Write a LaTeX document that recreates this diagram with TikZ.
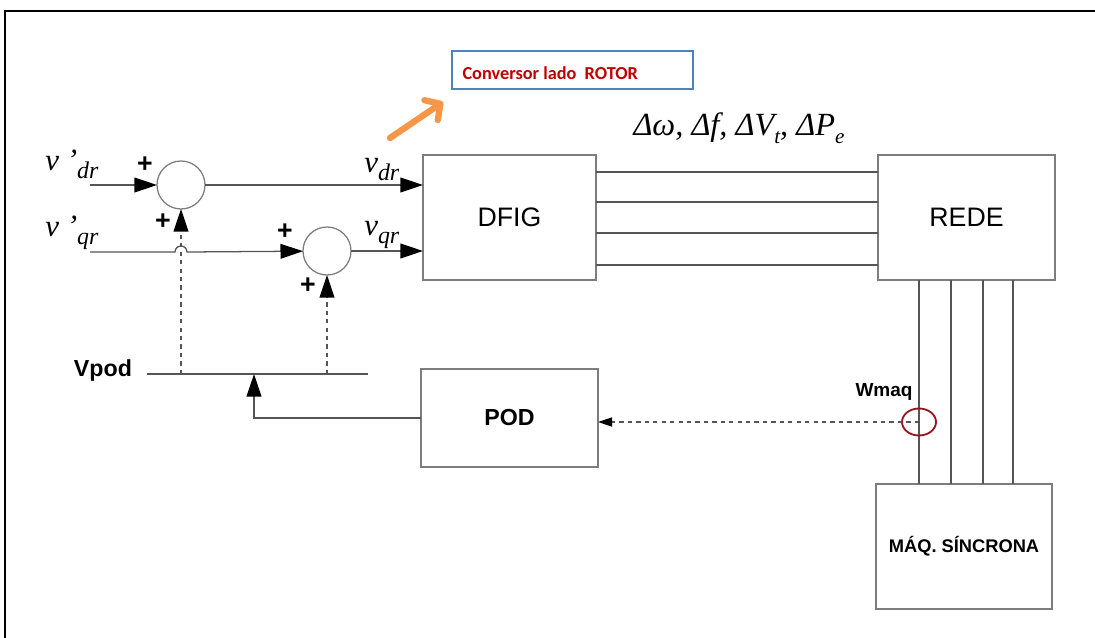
\documentclass[tikz,border=0pt]{standalone}
\usepackage{fontspec}
\setmainfont{Liberation Serif}
\setsansfont{Liberation Sans}
\newfontfamily\calibfont{Carlito}
\usepackage{xcolor}
\usetikzlibrary{arrows.meta,positioning,shapes.geometric}
\definecolor{boxgray}{RGB}{125,125,125}
\definecolor{wiregray}{RGB}{85,85,85}
\definecolor{convred}{RGB}{192,0,0}
\definecolor{convblue}{RGB}{79,129,189}
\definecolor{hintorange}{RGB}{247,150,70}
\definecolor{ringred}{RGB}{150,20,30}
\newcommand{\vsym}[2]{{\fontsize{22}{22}\selectfont\itshape #1\raisebox{-0.27em}{\fontsize{17}{17}\selectfont #2}}}

\begin{document}
\begin{tikzpicture}[
    x=0.025cm, y=-0.025cm,
    block/.style={rectangle, draw=boxgray, line width=1.2pt, outer sep=0pt, align=center,
                  font=\sffamily\fontsize{19}{19}\selectfont},
    sumnode/.style={circle, draw=boxgray, line width=0.9pt, minimum size=1.2cm, inner sep=0pt, outer sep=0pt},
    plus/.style={font=\sffamily\bfseries\fontsize{19}{19}\selectfont, inner sep=0pt},
    boldlbl/.style={font=\sffamily\bfseries\fontsize{16.5}{16.5}\selectfont, inner sep=0pt},
    wire/.style={draw=wiregray, line width=0.9pt},
    arr/.style={wire, -{Triangle[length=16pt, width=10.5pt, black]}},
    dasharr/.style={wire, dashed, -{Triangle[length=10pt, width=6.5pt, black]}},
]
\useasboundingbox (0,0) rectangle (1095,637);
% Frame
\draw[line width=1.5pt] (5,640) -- (5,11) -- (1100,11);

% Blocks
\node[block, minimum width=4.325cm, minimum height=3.125cm] (dfig) at (509.5,217.5) {DFIG};
\node[block, minimum width=4.425cm, minimum height=3.125cm] (rede) at (966.5,217.5) {REDE};
\node[block, minimum width=4.425cm, minimum height=2.45cm,
      font=\sffamily\bfseries\fontsize{16.5}{16.5}\selectfont] (pod) at (509.5,418) {POD};
\node[block, minimum width=4.4cm, minimum height=3.125cm,
      font=\sffamily\bfseries\fontsize{13}{13}\selectfont] (maq) at (964,546.5) {MÁQ. SÍNCRONA};

% Note box
\node[rectangle, draw=convblue, line width=1.1pt, minimum width=6.025cm, minimum height=0.95cm,
      outer sep=0pt] (conv) at (572.5,70) {};
\node[anchor=west, text=convred, font=\calibfont\bfseries\fontsize{13}{13}\selectfont]
      (convtxt) at ([xshift=0.14cm, yshift=-0.08cm]conv.west) {Conversor lado\ \ ROTOR};
\coordinate (otail) at (390,138);
\coordinate (ohead) at (443,102);
\draw[draw=hintorange, line width=4.5pt, line cap=round,
      -{Straight Barb[round, length=8pt, width=17pt]}] (otail) -- (ohead);

% Signals
\node[font=\itshape\fontsize{23}{23}\selectfont] (deltas) at (739,128)
      {Δω, Δf, ΔV\raisebox{-0.25em}{\fontsize{15}{15}\selectfont t}, ΔP\raisebox{-0.25em}{\fontsize{15}{15}\selectfont e}};

% Sums
\node[sumnode] (s1) at (181,185) {};
\node[sumnode] (s2) at (327,251) {};
\coordinate (in1) at (90,185);
\coordinate (in2) at (90,252);
\node[anchor=base west, inner sep=0pt] (vdrin) at (45,170) {\vsym{v ’}{dr}};
\node[anchor=base west, inner sep=0pt] (vqrin) at (45,236) {\vsym{v ’}{qr}};
\node[plus] (p1) at (145,165) {+};
\node[plus] (p2) at (163,222) {+};
\node[plus] (p3) at (285,232) {+};
\node[plus] (p4) at (308,286) {+};

\draw[arr] (in1) -- (s1);
\draw[arr] (in2) -- ([xshift=-0.15cm]in2 -| s1) arc[start angle=180, end angle=0, radius=0.15cm] -- (s2);
\draw[arr] (s1) -- (s1 -| dfig.west);
\draw[arr] (s2) -- (s2 -| dfig.west);
\node[anchor=base west, inner sep=0pt] (vdr) at (364,172) {\vsym{v}{dr}};
\node[anchor=base west, inner sep=0pt] (vqr) at (364,235) {\vsym{v}{qr}};

% Vpod bus
\coordinate (vl) at (147,374);
\coordinate (vr) at (368,374);
\coordinate (tap) at (254,374);
\draw[wire] (vl) -- (vr);
\node[boldlbl, anchor=base east] (vpod) at ([xshift=-0.37cm, yshift=-0.05cm]vl) {Vpod};
\draw[dasharr, -{Triangle[length=16pt, width=10.5pt, black]}] (vl -| s1) -- (s1);
\draw[dasharr, -{Triangle[length=16pt, width=10.5pt, black]}] (vl -| s2) -- (s2);
\draw[arr] (pod.west) -| (tap);

% DFIG - REDE - MAQ
\foreach \y in {172,202,233,265}
  \draw[wire] (dfig.east |- 0,\y) -- (rede.west |- 0,\y);
\foreach \x in {919,951,983,1013}
  \draw[wire] (rede.south -| \x,0) -- (maq.north -| \x,0);

% Speed measurement
\node[ellipse, draw=ringred, line width=1.3pt, minimum width=0.85cm, minimum height=0.675cm,
      inner sep=0pt] (wring) at (919,422) {};
\node[boldlbl, font=\sffamily\bfseries\fontsize{13.5}{13.5}\selectfont] (wmaq) at (884,392) {Wmaq};
\draw[dasharr] (wring.center) -- (wring.center -| pod.east);
\end{tikzpicture}
\end{document}
